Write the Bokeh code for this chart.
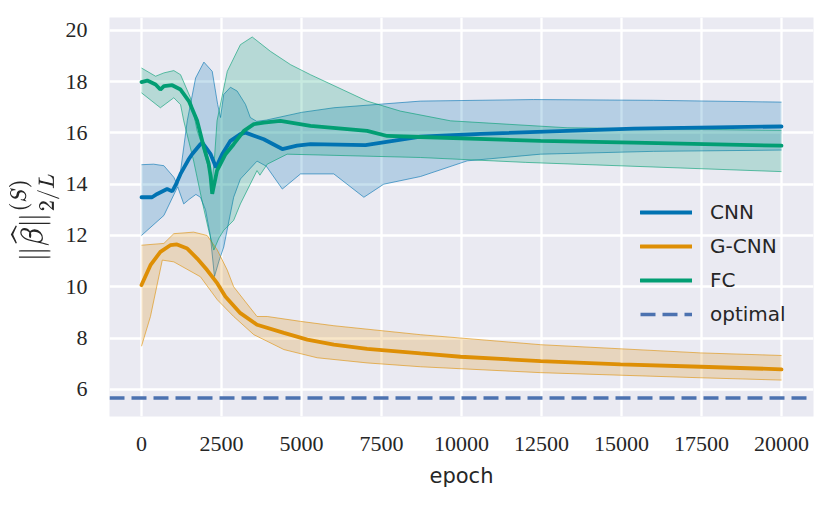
from bokeh.plotting import figure
from bokeh.models import Range1d, FixedTicker, Legend, LegendItem
from bokeh.embed import file_html
from bokeh.resources import INLINE

# ---------------- data ----------------
x_ticks = [0, 2500, 5000, 7500, 10000, 12500, 15000, 17500, 20000]
x_tick_labels = ["0", "2500", "5000", "7500", "10000", "12500", "15000", "17500", "20000"]
y_ticks = [6, 8, 10, 12, 14, 16, 18, 20]
y_tick_labels = ["6", "8", "10", "12", "14", "16", "18", "20"]
x_limits = [-1000, 21000]
y_limits = [4.94, 20.5]

optimal_value = 5.66

# CNN
cnn_x = [0, 330, 490, 800, 960, 1060, 1220, 1480, 1580, 1840, 1900, 2160, 2330, 2520, 2780,
         3090, 3250, 3820, 4400, 4860, 5280, 7000, 8720, 10600, 15380, 20000]
cnn_y = [13.49, 13.49, 13.62, 13.81, 13.72, 13.95, 14.40, 14.98, 15.17, 15.56, 15.62, 15.17,
         14.65, 15.17, 15.69, 15.95, 16.01, 15.75, 15.37, 15.50, 15.56, 15.52, 15.85, 15.96,
         16.17, 16.25]
cnn_up_x = [0, 380, 700, 1010, 1130, 1220, 1430, 1690, 1950, 2210, 2380, 2470, 2570, 2780,
            2990, 3250, 3400, 3600, 3900, 5000, 6010, 8720, 12250, 16000, 20000]
cnn_up_y = [14.76, 14.78, 14.72, 14.27, 13.95, 14.5, 16.47, 18.14, 18.76, 18.4, 17.11, 16.6,
            17.5, 17.78, 17.63, 17.11, 16.6, 16.45, 16.5, 16.8, 16.98, 17.24, 17.3, 17.27, 17.2]
cnn_lo_x = [0, 700, 1130, 1320, 1480, 1700, 1840, 2000, 2150, 2280, 2420, 2570, 2880, 3090,
            3610, 3900, 4400, 4970, 6010, 6950, 7570, 8720, 10180, 12470, 16000, 20000]
cnn_lo_y = [12.0, 12.78, 13.9, 13.23, 13.4, 13.6, 13.49, 13.0, 12.0, 10.4, 11.0, 11.55, 13.49,
            14.2, 14.9, 14.7, 13.81, 14.4, 14.4, 13.49, 14.0, 14.3, 14.91, 15.17, 15.28, 15.33]

# G-CNN
g_x = [0, 280, 590, 900, 1110, 1430, 1740, 2050, 2370, 2620, 3090, 3610, 4450, 5180, 6010,
       7050, 8720, 9970, 12470, 14970, 17470, 20000]
g_y = [10.07, 10.84, 11.36, 11.62, 11.65, 11.49, 11.10, 10.65, 10.13, 9.62, 8.97, 8.52, 8.20,
       7.94, 7.74, 7.58, 7.40, 7.27, 7.10, 6.97, 6.88, 6.78]
g_up_x = [0, 700, 1010, 1630, 2050, 2370, 2680, 2880, 3200, 3610, 3930, 4970, 6010, 8720,
          12470, 17470, 20000]
g_up_y = [11.62, 11.69, 12.07, 12.13, 12.00, 11.43, 10.65, 10.00, 9.49, 8.84, 8.84, 8.65, 8.48,
          8.13, 7.74, 7.42, 7.32]
g_lo_x = [0, 280, 650, 1010, 1840, 2370, 2880, 3510, 4450, 5490, 7050, 8720, 12470, 17470, 20000]
g_lo_y = [7.68, 8.84, 11.04, 10.97, 10.39, 9.49, 8.84, 8.13, 7.55, 7.23, 7.03, 6.88, 6.65, 6.45,
          6.36]

# FC
fc_x = [0, 180, 440, 590, 700, 960, 1220, 1480, 1740, 1950, 2100, 2160, 2210, 2360, 2625, 2880,
        3200, 3510, 3820, 4340, 5280, 7050, 7680, 8720, 12470, 15380, 20000]
fc_y = [17.98, 18.04, 17.89, 17.69, 17.82, 17.86, 17.69, 17.24, 16.47, 15.43, 14.8, 14.3, 13.62,
        14.53, 15.17, 15.56, 16.08, 16.34, 16.40, 16.47, 16.27, 16.08, 15.88, 15.84, 15.69,
        15.62, 15.50]
fc_up_x = [0, 440, 700, 1010, 1220, 1530, 1740, 1900, 2100, 2200, 2280, 2360, 2680, 3090, 3460,
           4030, 4660, 5280, 7050, 8090, 9660, 13300, 20000]
fc_up_y = [18.53, 18.21, 18.34, 18.43, 18.27, 17.37, 16.08, 15.5, 14.6, 14.0, 15.0, 16.47, 18.4,
           19.44, 19.74, 19.18, 18.66, 18.27, 17.24, 16.85, 16.47, 16.2, 16.1]
fc_lo_x = [0, 590, 1010, 1220, 1320, 1630, 1900, 2100, 2260, 2420, 2570, 2880, 3090, 3610, 3700,
           3930, 4550, 8720, 12000, 20000]
fc_lo_y = [17.56, 16.98, 17.37, 17.1, 16.47, 14.9, 13.3, 12.2, 11.43, 11.9, 12.2, 12.59, 13.23,
           14.53, 14.35, 14.78, 15.17, 15.04, 14.85, 14.49]

labels = ["CNN", "G-CNN", "FC", "optimal"]
colors = ["#0173B2", "#DE8F05", "#029E73"]
optimal_color = "#4C72B0"

# ---------------- figure ----------------
p = figure(width=822, height=490, output_backend="svg", toolbar_location=None,
           x_range=Range1d(*x_limits), y_range=Range1d(*y_limits),
           min_border_left=109, min_border_right=9, min_border_top=17, min_border_bottom=73)
p.background_fill_color = "#EAEAF2"
p.border_fill_color = "white"
p.outline_line_color = None

for g in (p.xgrid, p.ygrid):
    g.grid_line_color = "white"
    g.grid_line_width = 2.3
p.xgrid.ticker = FixedTicker(ticks=x_ticks)
p.ygrid.ticker = FixedTicker(ticks=y_ticks)

p.xaxis.ticker = FixedTicker(ticks=x_ticks)
p.yaxis.ticker = FixedTicker(ticks=y_ticks)
p.xaxis.major_label_overrides = dict(zip(x_ticks, x_tick_labels))
p.yaxis.major_label_overrides = dict(zip(y_ticks, y_tick_labels))
for ax in (p.xaxis, p.yaxis):
    ax.axis_line_color = None
    ax.major_tick_line_color = None
    ax.minor_tick_line_color = None
    ax.major_label_text_font = "Liberation Serif"
    ax.major_label_text_font_size = "22px"
    ax.major_label_text_color = "#262626"
    ax.axis_label_text_color = "#262626"
    ax.axis_label_text_font_style = "normal"
p.xaxis.major_label_standoff = 14
p.yaxis.major_label_standoff = 16
p.xaxis.axis_label = "epoch"
p.xaxis.axis_label_text_font = "DejaVu Sans"
p.xaxis.axis_label_text_font_size = "21px"
p.xaxis.axis_label_standoff = 10
p.yaxis.axis_label = r"$$\|\widehat{\beta}\|_{2/L}^{(S)}$$"
p.yaxis.axis_label_text_font_size = "26px"
p.yaxis.axis_label_standoff = 3

bands = [
    (cnn_up_x, cnn_up_y, cnn_lo_x, cnn_lo_y),
    (g_up_x, g_up_y, g_lo_x, g_lo_y),
    (fc_up_x, fc_up_y, fc_lo_x, fc_lo_y),
]
for (ux, uy, lx, ly), c in zip(bands, colors):
    p.patch(x=list(ux) + list(lx)[::-1], y=list(uy) + list(ly)[::-1],
            fill_color=c, fill_alpha=0.22, line_color=None)
    p.line(ux, uy, line_color=c, line_width=1, line_alpha=0.6)
    p.line(lx, ly, line_color=c, line_width=1, line_alpha=0.6)

opt_r = p.line(x_limits, [optimal_value, optimal_value], line_color=optimal_color,
               line_width=3.5, line_dash="15 7")

renderers = []
for (mx, my), c in zip([(cnn_x, cnn_y), (g_x, g_y), (fc_x, fc_y)], colors):
    renderers.append(p.line(mx, my, line_color=c, line_width=3.8, line_cap="round"))
renderers.append(opt_r)

legend = Legend(items=[LegendItem(label=l, renderers=[r]) for l, r in zip(labels, renderers)],
                location=(531, 88), border_line_color=None, background_fill_alpha=0,
                glyph_width=52, glyph_height=28, label_height=28, spacing=6, padding=0,
                margin=0, label_standoff=18, label_text_font="DejaVu Sans",
                label_text_font_size="20px", label_text_color="#262626")
p.add_layout(legend)

open("out.html", "w").write(file_html(p, INLINE))
